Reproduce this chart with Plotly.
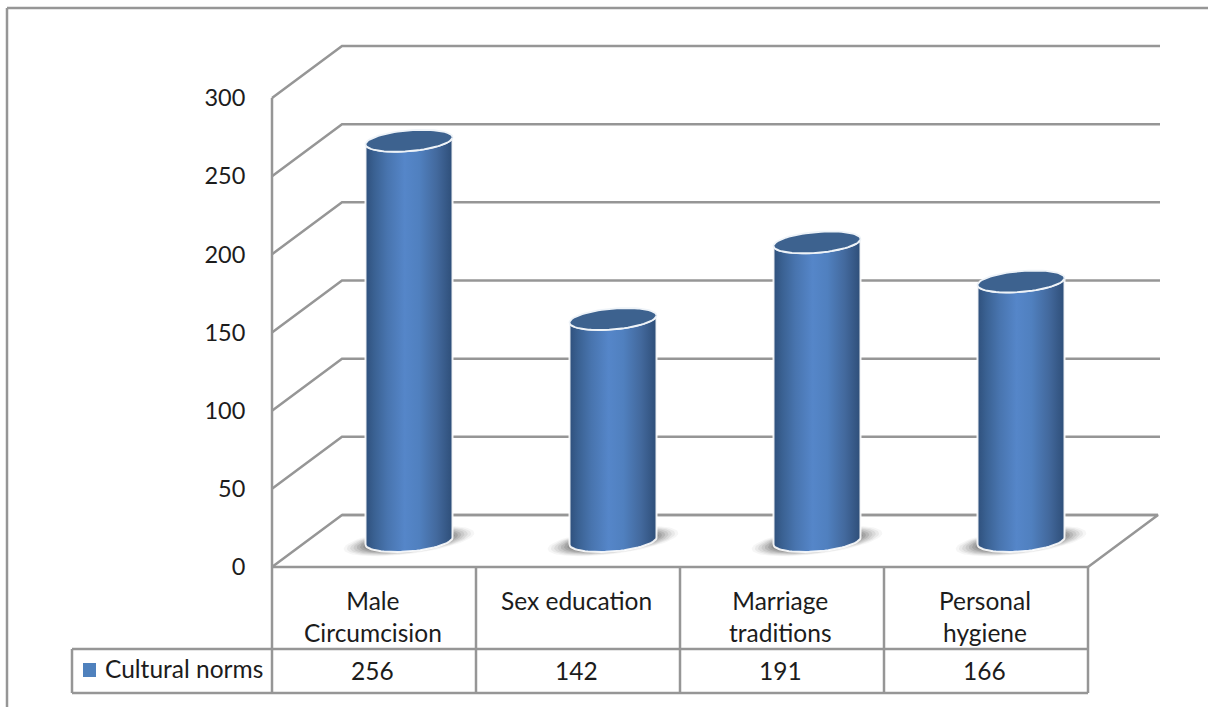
import numpy as np
import plotly.graph_objects as go

# ---- data ----
categories = ["Male<br>Circumcision", "Sex education", "Marriage<br>traditions", "Personal<br>hygiene"]
series_name = "Cultural norms"
values = [256, 142, 191, 166]
tick_values = [0, 50, 100, 150, 200, 250, 300]

# ---- canvas / axis mapping (full-canvas axes, everything lives on one scale) ----
W, H = 1208, 707
PX_PER_CAT = 204.0
X0_PX = 272.0                 # category edge -0.5
Y0_PX = 567.0                 # value 0
PX_PER_VAL = (567.0 - 98.0) / 300.0

def xd(px):
    return -0.5 + (px - X0_PX) / PX_PER_CAT

def yd(px):
    return (Y0_PX - px) / PX_PER_VAL

DEPTH_X = 70.0 / PX_PER_CAT
DEPTH_Y = 52.0 / PX_PER_VAL
GRID = "#969696"
TEXT = "#1c1c1c"
FONT = "Lato"
FS = 24.5
FS_TICK = 23.5

fig = go.Figure()

# ---- walls and floor ----
n = len(values)
x_left, x_right = -0.5, n - 0.5
for v in tick_values:
    fig.add_trace(go.Scatter(
        x=[x_left, x_left + DEPTH_X, x_right + DEPTH_X + (2 / PX_PER_CAT if v else 0)],
        y=[v, v + DEPTH_Y, v + DEPTH_Y],
        mode="lines", line=dict(color=GRID, width=2.5), hoverinfo="skip", showlegend=False))
fig.add_trace(go.Scatter(
    x=[x_left + DEPTH_X, x_right + DEPTH_X, x_right],
    y=[DEPTH_Y, DEPTH_Y, 0],
    mode="lines", line=dict(color=GRID, width=2.5), hoverinfo="skip", showlegend=False))
fig.add_trace(go.Scatter(
    x=[x_left, x_left], y=[tick_values[0], tick_values[-1]],
    mode="lines", line=dict(color=GRID, width=2.5), hoverinfo="skip", showlegend=False))

# ---- cylinders ----
A = 43.5 / PX_PER_CAT         # half width
B = 10.4 / PX_PER_VAL         # ellipse half height
TILT = 3.5 / PX_PER_VAL       # right end higher than the left
GRAD = [[0.0, "#2f507c"], [0.1, "#3a6192"], [0.25, "#4874ae"], [0.45, "#5586c9"],
        [0.62, "#5080bf"], [0.82, "#43699d"], [1.0, "#2e4e78"]]

def ellipse(cx, yc, t, a=A, b=B, tilt=TILT):
    return cx + a * np.cos(t), yc + tilt * np.cos(t) + b * np.sin(t)

t_full = np.linspace(0, 2 * np.pi, 73)
t_front = np.linspace(np.pi, 2 * np.pi, 37)

for i, v in enumerate(values):
    cx = i + DEPTH_X / 2
    y_base = DEPTH_Y / 2
    y_top = v + DEPTH_Y / 2
    # soft floor shadow
    for scale, alpha in [(1.0, 0.05), (0.95, 0.07), (0.9, 0.09), (0.85, 0.11),
                         (0.8, 0.14), (0.75, 0.17), (0.7, 0.2)]:
        sx, sy = ellipse(cx, y_base, t_full, a=A * 1.5 * scale,
                         b=13 / PX_PER_VAL * scale, tilt=8 / PX_PER_VAL * scale)
        fig.add_trace(go.Scatter(
            x=sx, y=sy, mode="lines", fill="toself", line=dict(width=0),
            fillcolor=f"rgba(70,70,70,{alpha})", hoverinfo="skip", showlegend=False))
    # body
    bx, by = ellipse(cx, y_base, t_front)
    tx, ty = ellipse(cx, y_top, t_front[::-1])
    fig.add_trace(go.Scatter(
        x=np.r_[bx, tx, bx[0]], y=np.r_[by, ty, by[0]],
        mode="lines", fill="toself",
        fillgradient=dict(type="horizontal", colorscale=GRAD, start=cx - A, stop=cx + A),
        line=dict(color="rgba(255,255,255,0.9)", width=2),
        name=series_name, hovertemplate=f"{v}<extra></extra>", showlegend=False))
    # top cap
    ex, ey = ellipse(cx, y_top, t_full)
    fig.add_trace(go.Scatter(
        x=ex, y=ey, mode="lines", fill="toself", fillcolor="#3d628f",
        line=dict(color="#eef3f8", width=1.8), hoverinfo="skip", showlegend=False))

# ---- data table and frame ----
Y_ROW1 = yd(649)
Y_ROW2 = yd(693)
x_key = xd(72)

def seg(xs, ys, color=GRID, w=2.5):
    fig.add_shape(type="line", x0=xs[0], x1=xs[1], y0=ys[0], y1=ys[1],
                  xref="x", yref="y", line=dict(color=color, width=w), layer="above")

seg((x_left, x_right), (0, 0))
seg((x_key, x_right), (Y_ROW1, Y_ROW1))
seg((x_key, x_right), (Y_ROW2, Y_ROW2))
seg((x_key, x_key), (Y_ROW1, Y_ROW2))
for k in range(n + 1):
    seg((k - 0.5, k - 0.5), (0, Y_ROW2))
seg((xd(7), xd(W)), (yd(8), yd(8)))
seg((xd(7), xd(7)), (yd(8), yd(H)))

LABEL_SHIFT = -1.5 / PX_PER_CAT
for i, (c, v) in enumerate(zip(categories, values)):
    fig.add_annotation(x=i + LABEL_SHIFT, y=yd(616), text=c if "<br>" in c else c + "<br> ",
                       showarrow=False, xref="x", yref="y", align="center",
                       font=dict(family=FONT, size=FS, color=TEXT))
    fig.add_annotation(x=i + LABEL_SHIFT, y=yd(670), text=str(v), showarrow=False,
                       xref="x", yref="y", font=dict(family=FONT, size=FS, color=TEXT))

# legend key inside the table
fig.add_shape(type="rect", x0=xd(83), x1=xd(96), y0=yd(663), y1=yd(677), xref="x", yref="y",
              fillcolor="#4f81bd", line=dict(width=0), layer="above")
fig.add_annotation(x=xd(103), y=yd(668), text=series_name, showarrow=False, xref="x", yref="y",
                   xanchor="left", font=dict(family=FONT, size=FS, color=TEXT))

fig.update_layout(
    width=W, height=H, margin=dict(l=0, r=0, t=0, b=0),
    paper_bgcolor="white", plot_bgcolor="white", showlegend=False,
    xaxis=dict(range=[xd(0), xd(W)], visible=False, fixedrange=True),
    yaxis=dict(range=[yd(H), yd(0)], anchor="free", position=X0_PX / W, side="left",
               tickmode="array", tickvals=tick_values, ticktext=[str(t) for t in tick_values],
               showgrid=False, zeroline=False, showline=False, ticks="outside", ticklen=22,
               tickcolor="rgba(0,0,0,0)", tickfont=dict(family=FONT, size=FS_TICK, color=TEXT),
               fixedrange=True),
)

fig.write_html("out.html", post_script="document.body.style.margin='0';",
               config={"displayModeBar": False})
